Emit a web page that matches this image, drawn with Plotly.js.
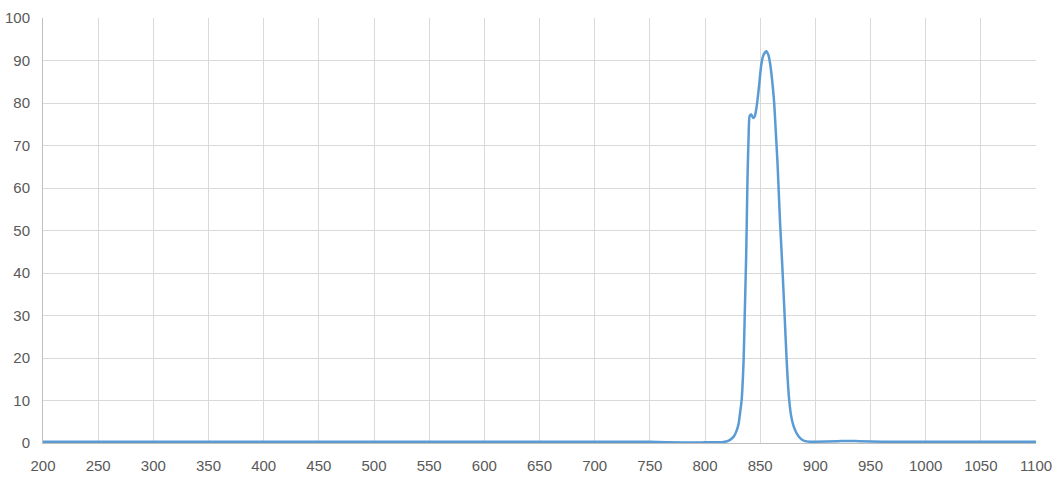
<!DOCTYPE html>
<html>
<head>
<meta charset="utf-8">
<script src="https://cdn.plot.ly/plotly-3.0.1.min.js"></script>
<style>
  html, body { margin: 0; padding: 0; background: #fff; }
  #chart { width: 1055px; height: 478px; }
</style>
</head>
<body>
<div id="chart"></div>
<script>
// wavelength (nm)
var wavelength = [200, 250, 300, 350, 400, 450, 500, 550, 600, 650, 700, 750, 780, 800, 815, 820, 823, 826, 828.5, 830.5,
  832, 833.2, 835, 836, 837.4, 838.5, 839.5, 840.5, 842, 843.5, 845, 847, 849, 851, 853, 855.5, 857.5, 859, 861, 862.7,
  864, 865.7, 868, 870, 872, 874, 876, 878, 880, 883, 886, 890, 895, 900, 920, 930, 940, 960, 1000, 1050, 1100];
// transmittance (%)
var transmittance = [0.3, 0.3, 0.3, 0.3, 0.3, 0.3, 0.3, 0.3, 0.3, 0.3, 0.3, 0.3, 0.1, 0.15, 0.2, 0.4, 0.8, 1.5, 2.8, 4.6,
  7.5, 10.1, 19.5, 30, 45, 62, 72, 77, 77.3, 76.5, 76.8, 79.5, 84, 89, 91.3, 92.2, 91.3, 89.3, 85, 80,
  74, 66, 52, 42, 31, 19.5, 11, 6.5, 4.2, 2.3, 1.2, 0.5, 0.3, 0.3, 0.4, 0.5, 0.4, 0.3, 0.3, 0.3, 0.3];

var trace = {
  x: wavelength,
  y: transmittance,
  type: 'scatter',
  mode: 'lines',
  line: {color: '#5b9bd5', width: 2.5, shape: 'spline', smoothing: 0.6},
  hoverinfo: 'x+y'
};

var tickFont = {family: 'Liberation Sans, Arial, sans-serif', size: 15, color: '#595959'};

var layout = {
  width: 1055,
  height: 478,
  margin: {l: 43, r: 19, t: 18, b: 35},
  paper_bgcolor: '#ffffff',
  plot_bgcolor: '#ffffff',
  showlegend: false,
  xaxis: {
    range: [200, 1100],
    dtick: 50,
    tick0: 200,
    showgrid: true,
    gridcolor: '#d9d9d9',
    gridwidth: 1,
    zeroline: false,
    showline: true,
    linecolor: '#bfbfbf',
    linewidth: 1,
    ticks: '',
    tickfont: tickFont,
    ticklabelstandoff: 9
  },
  yaxis: {
    range: [0, 100],
    dtick: 10,
    showgrid: true,
    gridcolor: '#d9d9d9',
    gridwidth: 1,
    zeroline: false,
    showline: true,
    linecolor: '#bfbfbf',
    linewidth: 1,
    ticks: '',
    tickfont: tickFont,
    ticklabelstandoff: 9
  }
};

Plotly.newPlot('chart', [trace], layout, {displayModeBar: false, staticPlot: true});
</script>
</body>
</html>
